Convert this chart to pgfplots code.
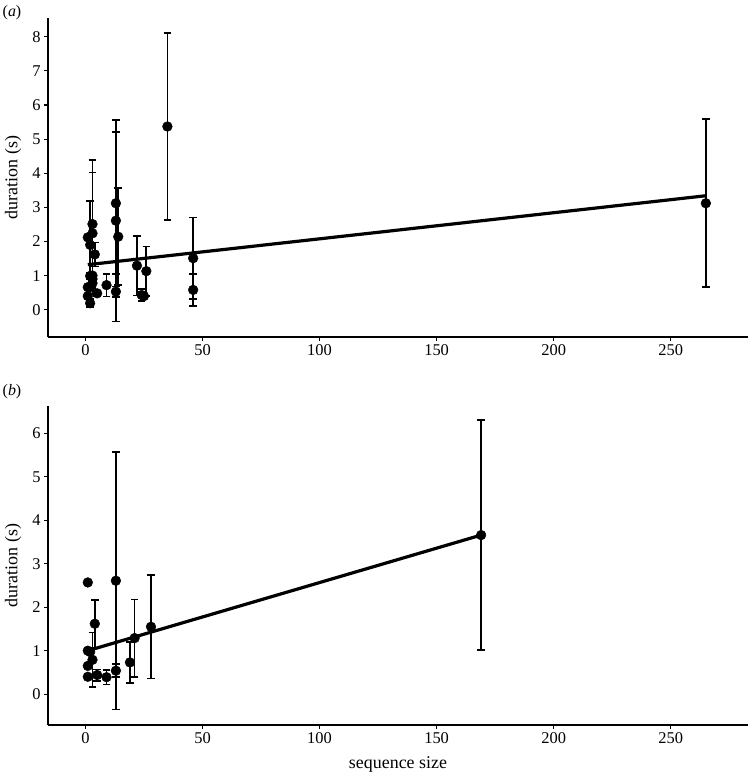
\documentclass[border=0pt]{standalone}
\usepackage{fontspec}
\setmainfont{Liberation Serif}
\usepackage{pgfplots}
\pgfplotsset{compat=1.18}
\pgfplotstableread{
x y e
2 1.90 1.29
3 2.51 1.88
3 2.24 1.78
4 1.62 0.35
2 0.99 0.10
3 0.90 0.12
2 0.66 0.08
5 0.48 0.08
2 0.19 0.12
9 0.72 0.33
13 3.12 2.08
13 2.61 2.96
14 2.14 1.42
13 0.53 0.15
22 1.29 0.87
26 1.13 0.72
24 0.43 0.17
35 5.37 2.75
46 1.51 1.19
46 0.58 0.47
265 3.12 2.46
}\dataAerr
\pgfplotstableread{
x y
1 2.12
1 0.66
1 0.40
3 1.00
3 0.78
25 0.40
}\dataAnoerr
\pgfplotstableread{
x y e
13 2.61 2.96
4 1.62 0.55
3 0.79 0.63
5 0.44 0.13
9 0.39 0.17
13 0.54 0.15
19 0.73 0.47
21 1.29 0.89
28 1.55 1.19
169 3.66 2.65
}\dataBerr
\pgfplotstableread{
x y
1 2.57
1 1.00
2 0.97
1 0.65
1 0.40
}\dataBnoerr
\begin{document}
\begin{tikzpicture}
\path[use as bounding box] (0bp,0bp) rectangle (750bp,-776bp);
\pgfplotsset{
 myax/.style={
  scale only axis, width=700bp, height=319bp,
  axis lines=left, axis line style={-, line width=1.3bp},
  xmin=-16, xmax=283,
  xtick={0,50,...,250},
  tick align=outside, major tick length=4bp,
  tick style={line width=1.1bp, black},
  every tick label/.append style={font=\fontsize{16.5}{18}\selectfont},
  /pgf/number format/assume math mode=true,
  label style={font=\fontsize{18}{20}\selectfont},
  ylabel={duration (s)},
  ylabel style={at={(axis description cs:-0.05,0.5)}, anchor=center},
  clip=false,
 },
 errp/.style={only marks, mark=*, mark size=4.9bp, black,
  error bars/.cd, y dir=both, y explicit,
  error bar style={line width=1.7bp, black},
  error mark options={rotate=90, mark size=3.8bp, line width=1.7bp, black}},
 plainp/.style={only marks, mark=*, mark size=4.9bp, black},
}
\node[font=\fontsize{16}{18}\selectfont] at (12bp,-13bp) {(\textit{a})};
\node[font=\fontsize{16}{18}\selectfont] at (12bp,-392bp) {(\textit{b})};
\begin{axis}[myax, at={(48bp,-18bp)}, anchor=north west,
  ymin=-0.8, ymax=8.55, ytick={0,1,...,8}]
\addplot[black, line width=3.2bp, no marks] coordinates {(1,1.32) (265,3.34)};
\addplot[errp] table[x=x, y=y, y error=e] {\dataAerr};
\addplot[plainp] table[x=x, y=y] {\dataAnoerr};
\end{axis}
\begin{axis}[myax, at={(48bp,-406bp)}, anchor=north west,
  ymin=-0.71, ymax=6.63, ytick={0,1,...,6},
  xlabel={sequence size},
  xlabel style={at={(axis description cs:0.5,-0.125)}, anchor=center}]
\addplot[black, line width=3.2bp, no marks] coordinates {(1,1.0) (169,3.66)};
\addplot[errp] table[x=x, y=y, y error=e] {\dataBerr};
\addplot[plainp] table[x=x, y=y] {\dataBnoerr};
\end{axis}
\end{tikzpicture}
\end{document}
